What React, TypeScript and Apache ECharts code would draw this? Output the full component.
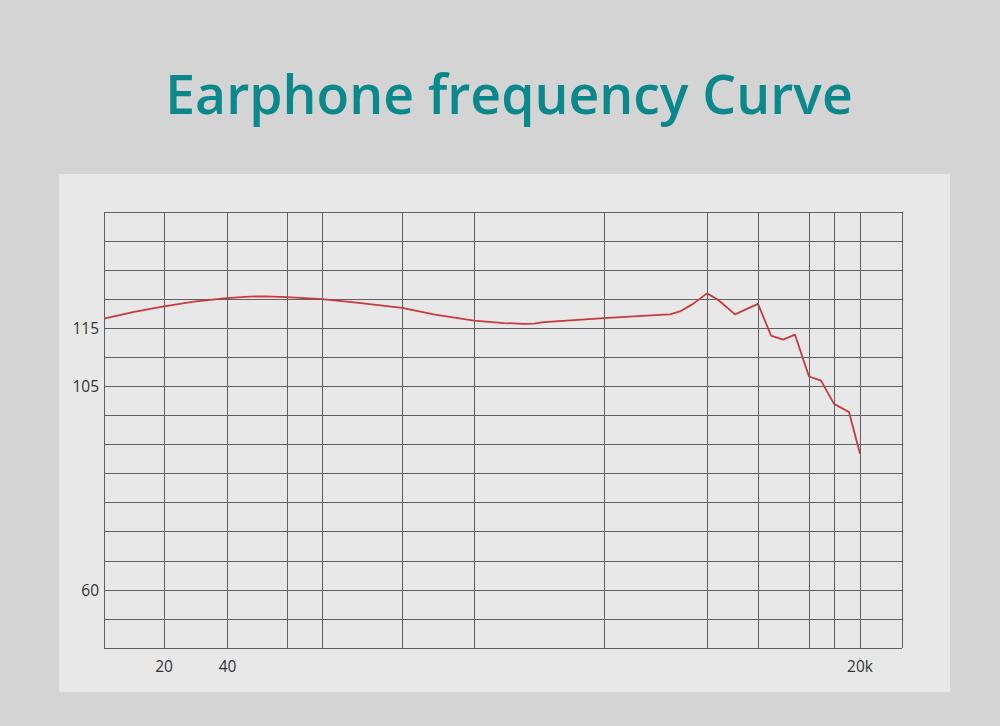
import { useEffect, useRef } from "react";
import * as echarts from "echarts";

// x runs 0..798 across the plot, y counts grid rows up from the bottom (0..15)
const X_MAX = 798;
const Y_ROWS = 15;

const xGridLines = [0, 60, 123.5, 183, 218, 298, 370, 500, 603, 654, 705, 730, 756, 798];
const xLabelValues = [60, 123.5, 756];
const xLabelTexts = ["20", "40", "20k"];

const yLabelValues = [2, 9, 11];
const yLabelTexts = ["60", "105", "115"];

const curveX = [
  0, 30, 60, 90, 123, 145, 161, 183, 218, 255, 298, 331, 370, 400, 420, 430, 440,
  500, 560, 566, 576, 589, 603, 614, 631, 654, 667, 679, 691, 705, 717, 730, 745, 756,
];
const curveY = [
  11.33, 11.56, 11.75, 11.92, 12.04, 12.09, 12.1, 12.07, 12.0, 11.87, 11.7, 11.47, 11.26,
  11.18, 11.15, 11.16, 11.21, 11.35, 11.47, 11.48, 11.58, 11.84, 12.2, 11.98, 11.48, 11.84,
  10.75, 10.61, 10.78, 9.34, 9.2, 8.4, 8.12, 6.68,
];

export default function App() {
  const chartRef = useRef<HTMLDivElement>(null);

  useEffect(() => {
    if (!chartRef.current) return;
    const chart = echarts.init(chartRef.current, undefined, { renderer: "svg" });

    const pick = (values: number[], texts: string[]) => (v: number) => {
      const i = values.findIndex((x) => Math.abs(x - v) < 1e-6);
      return i >= 0 ? texts[i] : "";
    };

    const option: echarts.EChartsOption = {
      animation: false,
      backgroundColor: "#d4d4d4",
      title: {
        text: "Earphone frequency Curve",
        left: 504,
        textAlign: "center",
        top: 61,
        textStyle: {
          fontFamily: "Open Sans",
          fontSize: 53.5,
          fontWeight: 600,
          color: "#0b888c",
        },
      } as any,
      graphic: [
        {
          type: "rect",
          z: -10,
          shape: { x: 59, y: 174, width: 891, height: 518 },
          style: { fill: "#e8e8e8" },
        },
      ],
      grid: { left: 104, top: 212, width: 798, height: 436 },
      xAxis: {
        type: "value",
        min: 0,
        max: X_MAX,
        axisLine: { show: false },
        axisTick: { show: false },
        splitLine: { show: false },
        axisLabel: {
          customValues: xLabelValues,
          formatter: pick(xLabelValues, xLabelTexts),
          color: "#333",
          fontSize: 15.5,
          fontFamily: "Open Sans",
          margin: 10,
        },
      } as any,
      yAxis: {
        type: "value",
        min: 0,
        max: Y_ROWS,
        interval: 1,
        axisLine: { show: false },
        axisTick: { show: false },
        splitLine: { lineStyle: { color: "#606060", width: 1 } },
        axisLabel: {
          formatter: pick(yLabelValues, yLabelTexts),
          color: "#333",
          fontSize: 15.5,
          fontFamily: "Open Sans",
          margin: 5,
        },
      },
      series: [
        {
          type: "line",
          data: curveX.map((x, i) => [x, curveY[i]]),
          showSymbol: false,
          lineStyle: { color: "#c93a3c", width: 1.8 },
          markLine: {
            silent: true,
            symbol: "none",
            label: { show: false },
            lineStyle: { color: "#606060", width: 1, type: "solid" },
            data: xGridLines.map((x) => ({ xAxis: x })),
          },
        },
      ],
    };

    chart.setOption(option);
    return () => chart.dispose();
  }, []);

  return (
    <div style={{ position: "fixed", left: 0, top: 0, width: 1000, height: 726 }}>
      <div ref={chartRef} style={{ width: 1000, height: 726 }} />
    </div>
  );
}
